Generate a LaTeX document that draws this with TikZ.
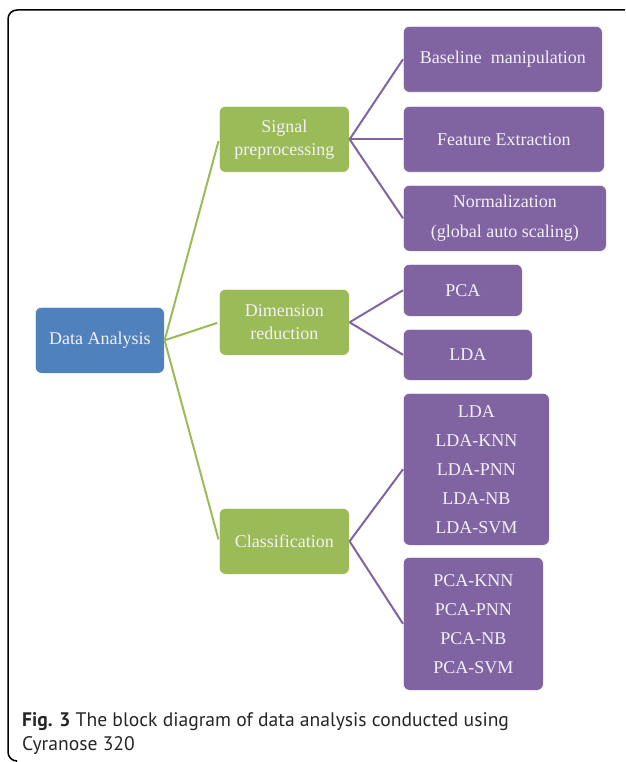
\documentclass[tikz,border=0pt]{standalone}
\usepackage{fontspec}
\setmainfont{Liberation Serif}
\newfontfamily\capfont{PT Sans}
\usetikzlibrary{positioning, calc}

\definecolor{rootblue}{HTML}{4F81BD}
\definecolor{midgreen}{HTML}{9BBB59}
\definecolor{leafpurple}{HTML}{8064A2}
\definecolor{boxtext}{HTML}{F4F0F8}

\begin{document}
\begin{tikzpicture}[x=1pt, y=-1pt,
  box/.style={rounded corners=6pt, draw=white, line width=0.6pt, text=boxtext, align=center,
    font=\fontsize{18}{23}\selectfont, anchor=north west, inner sep=0pt},
  rootbox/.style={box, fill=rootblue},
  midbox/.style={box, fill=midgreen},
  leafbox/.style={box, fill=leafpurple},
  greenlink/.style={draw=midgreen, line width=2pt, shorten >=2pt},
  purplelink/.style={draw=leafpurple, line width=2pt}]
\useasboundingbox (0,0) rectangle (625,762);

% frame
\draw[line width=1.5pt, rounded corners=9pt] (625,10) -- (8,10) -- (8,761) -- (16,761);

% root
\node[rootbox, minimum width=129pt, minimum height=66pt] (analysis) at (35,307) {Data Analysis};

% second level
\node[midbox, minimum width=130pt, minimum height=66pt] (signal) at (219,106) {Signal\\preprocessing};
\node[midbox, minimum width=130pt, minimum height=66pt] (dimred) at (219,289) {Dimension\\reduction};
\node[midbox, minimum width=130pt, minimum height=66pt] (classif) at (219,508) {Classification};

% leaves
\node[leafbox, minimum width=199pt, minimum height=66pt] (baseline) at (403,26) {Baseline\ \ manipulation};
\node[leafbox, minimum width=201pt, minimum height=66pt] (feature) at (403,106) {Feature Extraction};
\node[leafbox, minimum width=203pt, minimum height=66pt, font=\fontsize{18}{30}\selectfont] (normal) at (403,185) {Normalization\\(global auto scaling)};
\node[leafbox, minimum width=119pt, minimum height=52pt] (pca) at (403,264) {PCA};
\node[leafbox, minimum width=129pt, minimum height=51pt] (lda) at (403,329) {LDA};
\node[leafbox, minimum width=146pt, minimum height=152pt, font=\fontsize{18}{29}\selectfont] (ldalist) at (403,393) {LDA\\LDA-KNN\\LDA-PNN\\LDA-NB\\LDA-SVM};
\node[leafbox, minimum width=140pt, minimum height=133pt, font=\fontsize{18}{29}\selectfont] (pcalist) at (403,557) {PCA-KNN\\PCA-PNN\\PCA-NB\\PCA-SVM};

% connectors
\foreach \dst in {signal, dimred, classif}
  \draw[greenlink] (analysis.east) -- (\dst.west);
\foreach \dst in {baseline, feature, normal}
  \draw[purplelink] (signal.east) -- (\dst.west);
\foreach \dst in {pca, lda}
  \draw[purplelink] (dimred.east) -- (\dst.west);
\foreach \dst in {ldalist, pcalist}
  \draw[purplelink] (classif.east) -- (\dst.west);

% caption
\node[anchor=north west, align=left, inner sep=0pt, font=\capfont\fontsize{19.6}{24}\selectfont, text=black!85] (caption) at (22,712)
  {\textbf{Fig. 3} The block diagram of data analysis conducted using\\Cyranose 320};
\end{tikzpicture}
\end{document}
